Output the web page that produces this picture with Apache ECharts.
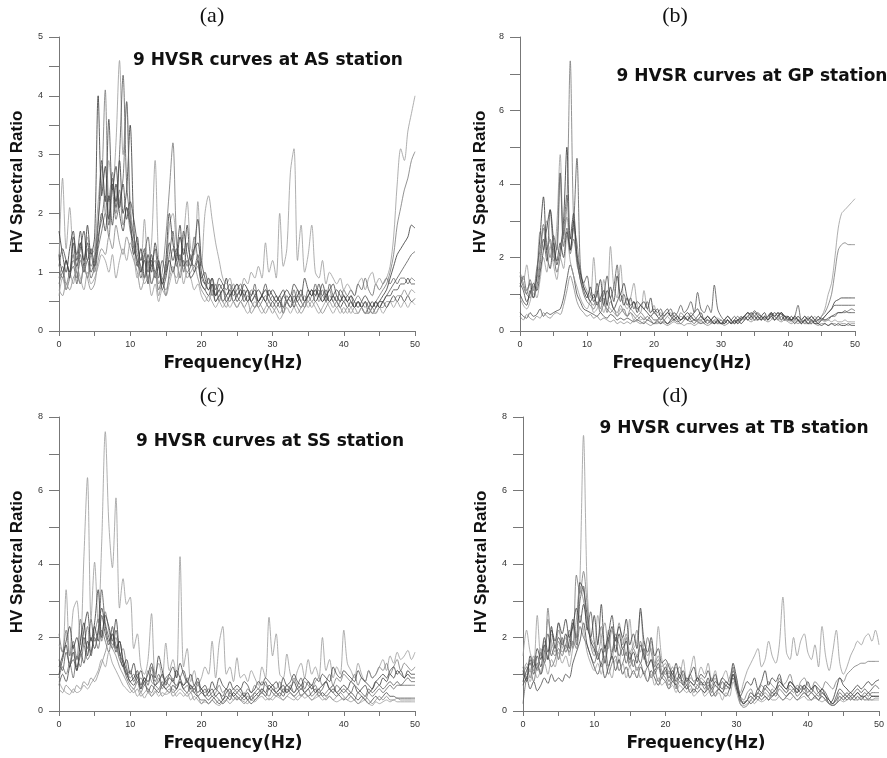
<!DOCTYPE html>
<html>
<head>
<meta charset="utf-8">
<script src="https://cdn.jsdelivr.net/npm/echarts@6/dist/echarts.min.js"></script>
<style>
  html, body { margin: 0; padding: 0; background: #fff; }
  #chart { width: 887px; height: 758px; }
</style>
</head>
<body>
<div id="chart"></div>
<script>
// frequency grid (Hz), shared by all curves
const freq = [0,0.5,1,1.5,2,2.5,3,3.5,4,4.5,5,5.5,6,6.5,7,7.5,8,8.5,9,9.5,10,10.5,11,11.5,12,12.5,13,13.5,14,14.5,15,15.5,16,16.5,17,17.5,18,18.5,19,19.5,20,20.5,21,21.5,22,22.5,23,23.5,24,24.5,25,25.5,26,26.5,27,27.5,28,28.5,29,29.5,30,30.5,31,31.5,32,32.5,33,33.5,34,34.5,35,35.5,36,36.5,37,37.5,38,38.5,39,39.5,40,40.5,41,41.5,42,42.5,43,43.5,44,44.5,45,45.5,46,46.5,47,47.5,48,48.5,49,49.5,50]

// (a) AS station
const as1 = [1.2, 2.6,1.4,2.1,1.3,1.1,1.5,1.2,1.6,1.3,1.4, 2.2,2.8,2.0,2.9,2.4,3.2,4.6,3.0,3.9,2.2, 1.6,1.4,1.2,1.9,1.1,1.5,2.9,1.2,0.9,1.1, 1.8,2.0,1.5,1.2,1.6,2.2,1.4,1.3,2.2,1.1, 2.0,2.3,1.9,1.5,1.2,0.9,0.8,0.9,0.7,0.8, 0.7,0.9,0.8,1.0,0.9,1.1,0.9,1.5,1.0,1.2, 0.9,2.0,1.1,1.4,2.7,3.1,1.2,1.8,1.0,1.3, 1.8,1.0,0.9,1.2,0.8,1.0,0.9,0.8,0.9,0.7, 0.8,0.7,0.6,0.8,0.9,0.7,0.9,1.0,0.8,0.9, 0.8,0.9,1.1,1.6,2.5,3.1,2.9,3.4,3.7,4.0]
const as2 = [0.9, 1.1,0.8,1.0,1.3,0.9,1.2,1.0,1.4,1.1,1.3, 1.9,2.5,4.1,2.2,2.7,2.0,2.4,1.8,2.1,1.7, 1.5,1.2,1.0,1.3,0.9,1.1,1.2,0.8,1.0,1.6, 2.4,3.2,1.6,1.2,1.4,1.1,1.3,1.0,1.1,0.9, 0.8,0.9,0.7,0.6,0.7,0.8,0.6,0.7,0.8,0.6, 0.7,0.6,0.5,0.7,0.6,0.5,0.6,0.7,0.5,0.6, 0.5,0.6,0.4,0.5,0.6,0.5,0.7,0.5,0.6,0.5, 0.6,0.7,0.5,0.6,0.5,0.6,0.5,0.4,0.5,0.6, 0.5,0.4,0.5,0.6,0.5,0.4,0.5,0.4,0.5,0.6, 0.7,0.8,1.0,1.3,1.8,2.1,2.4,2.6,2.9,3.05]
const as3 = [1.7, 1.3,1.0,1.4,1.7,1.2,1.5,1.1,1.8,1.3,1.6, 4.0,2.3,2.8,1.9,2.5,2.2,2.9,2.0,2.4,3.5, 1.8,1.1,1.4,0.9,1.3,1.0,1.5,1.1,0.8,1.2, 2.0,1.5,1.2,1.6,1.3,1.8,1.2,1.4,1.5,1.0, 0.8,0.7,0.9,0.6,0.8,0.7,0.9,0.6,0.7,0.8, 0.6,0.8,0.7,0.5,0.6,0.7,0.6,0.5,0.7,0.6, 0.5,0.6,0.7,0.5,0.6,0.4,0.6,0.7,0.5,0.6, 0.7,0.5,0.6,0.8,0.6,0.5,0.6,0.5,0.4,0.5, 0.4,0.5,0.4,0.5,0.4,0.3,0.4,0.5,0.4,0.5, 0.6,0.7,0.9,1.1,1.3,1.4,1.5,1.6,1.8,1.75]
const as4 = [1.0, 0.9,1.2,1.0,1.1,0.8,1.3,1.0,1.2,0.9,1.1, 1.6,1.9,2.3,1.8,2.6,2.1,3.0,4.35,2.5,1.9, 1.4,1.2,0.9,1.3,1.6,1.1,1.4,0.9,1.2,1.0, 1.3,1.7,1.1,1.3,1.0,1.5,1.2,1.1,1.3,0.9, 1.0,0.8,0.9,0.7,0.9,0.8,0.7,0.8,0.6,0.7, 0.8,0.6,0.7,0.6,0.8,0.5,0.6,0.7,0.6,0.5, 0.6,0.5,0.4,0.6,0.5,0.7,0.5,0.6,0.5,0.7, 0.6,0.8,0.6,0.7,0.5,0.8,0.6,0.5,0.7,0.6, 0.5,0.6,0.4,0.5,0.4,0.5,0.3,0.4,0.5,0.4, 0.5,0.6,0.7,0.8,0.9,1.0,1.1,1.2,1.3,1.35]
const as5 = [0.8, 1.0,0.7,0.9,1.2,1.0,0.8,1.1,0.9,1.3,1.0, 1.4,1.7,2.0,1.6,2.4,1.9,2.2,2.6,3.9,2.0, 1.6,1.3,1.1,0.9,1.2,0.8,1.0,0.7,0.9,0.6, 1.0,1.4,1.2,0.9,1.2,1.0,1.1,1.6,1.2,0.8, 0.7,0.9,0.6,0.8,0.5,0.7,0.6,0.5,0.7,0.6, 0.5,0.6,0.7,0.5,0.6,0.4,0.5,0.6,0.5,0.4, 0.5,0.4,0.6,0.5,0.4,0.5,0.6,0.5,0.4,0.6, 0.5,0.6,0.7,0.5,0.6,0.7,0.5,0.6,0.5,0.7, 0.6,0.7,0.6,0.8,0.7,0.9,0.7,0.6,0.8,0.7, 0.8,0.9,0.8,0.9,0.8,0.9,0.9,0.8,0.9,0.85]
const as6 = [1.1, 1.4,1.2,1.0,1.6,1.3,1.7,1.2,1.5,1.0,1.2, 1.8,2.9,2.2,3.6,2.4,2.8,2.1,2.5,1.9,2.2, 1.9,1.5,1.2,1.4,1.0,1.2,0.9,1.1,0.8,1.0, 1.5,1.2,1.4,1.1,1.7,1.3,1.1,1.4,1.9,1.2, 0.9,0.7,0.8,0.6,0.7,0.5,0.6,0.7,0.5,0.6, 0.7,0.5,0.6,0.5,0.4,0.5,0.6,0.5,0.4,0.5, 0.4,0.5,0.3,0.5,0.4,0.6,0.5,0.4,0.5,0.6, 0.7,0.6,0.8,0.6,0.7,0.5,0.6,0.7,0.6,0.5, 0.6,0.5,0.4,0.5,0.4,0.5,0.4,0.3,0.4,0.5, 0.5,0.6,0.6,0.7,0.7,0.8,0.8,0.9,0.8,0.8]
const as7 = [0.7, 0.6,0.8,0.7,0.9,1.0,0.8,1.1,0.9,0.7,0.8, 1.2,1.4,1.3,1.6,1.4,1.8,1.5,1.3,1.6,1.4, 1.2,1.0,0.7,0.9,1.1,0.8,1.0,0.6,0.8,0.7, 0.9,1.1,0.8,1.0,1.2,0.9,1.0,1.1,0.9,0.7, 0.6,0.5,0.7,0.5,0.6,0.5,0.4,0.6,0.5,0.4, 0.5,0.4,0.5,0.3,0.4,0.5,0.4,0.3,0.4,0.3, 0.4,0.3,0.4,0.5,0.4,0.5,0.4,0.3,0.4,0.5, 0.4,0.5,0.4,0.3,0.4,0.5,0.4,0.5,0.4,0.3, 0.4,0.3,0.4,0.3,0.4,0.3,0.3,0.4,0.3,0.4, 0.4,0.5,0.5,0.5,0.6,0.6,0.7,0.6,0.7,0.65]
const as8 = [0.6, 0.9,0.7,1.0,0.8,1.1,0.9,0.7,1.0,0.8,0.9, 1.1,1.3,1.2,1.0,1.3,0.9,1.2,1.4,1.2,1.5, 1.3,0.9,1.1,0.8,0.9,0.6,0.8,0.5,0.7,0.6, 0.8,1.0,0.9,1.2,0.8,1.0,0.9,0.7,0.8,0.6, 0.5,0.6,0.5,0.4,0.5,0.4,0.5,0.4,0.5,0.4, 0.5,0.4,0.3,0.4,0.5,0.4,0.3,0.4,0.5,0.4, 0.3,0.2,0.3,0.4,0.3,0.4,0.3,0.4,0.5,0.4, 0.5,0.4,0.3,0.4,0.5,0.4,0.3,0.4,0.3,0.4, 0.3,0.4,0.3,0.3,0.4,0.3,0.4,0.3,0.3,0.4, 0.3,0.4,0.5,0.4,0.5,0.4,0.5,0.4,0.5,0.45]
const as9 = [1.3, 1.0,1.2,0.9,1.5,1.1,1.4,1.7,1.2,1.4,1.1, 1.5,2.0,1.7,2.3,1.8,2.5,2.0,1.7,2.1,1.8, 1.3,1.6,1.0,1.2,0.8,1.3,1.0,1.2,0.7,0.9, 1.2,1.0,1.3,1.8,1.1,1.2,0.9,1.0,1.2,0.8, 0.7,0.6,0.8,0.5,0.6,0.7,0.5,0.6,0.7,0.5, 0.6,0.7,0.5,0.6,0.7,0.5,0.6,0.8,0.6,0.7, 0.6,0.5,0.6,0.7,0.6,0.8,0.7,0.6,0.9,0.7, 0.6,0.7,0.6,0.5,0.6,0.7,0.8,0.6,0.5,0.6, 0.5,0.6,0.5,0.4,0.5,0.6,0.5,0.4,0.5,0.4, 0.5,0.4,0.5,0.6,0.5,0.6,0.5,0.6,0.5,0.55]

// (b) GP station
const gp1 = [1.5, 1.4,1.8,1.2,1.0,1.6,2.7,2.2,3.0,2.4,2.0, 2.9,4.8,2.5,3.1,2.2,2.8,1.8,1.5,1.3,1.1, 0.9,2.0,1.0,0.8,1.4,0.7,2.3,1.2,0.9,1.8, 0.8,0.6,0.9,1.3,0.7,0.5,1.1,0.6,0.5,0.7, 0.4,0.5,0.3,0.4,0.5,0.3,0.4,0.3,0.4,0.3, 0.4,0.3,0.3,0.4,0.3,0.2,0.3,0.4,0.3,0.3, 0.2,0.3,0.2,0.3,0.2,0.3,0.4,0.3,0.4,0.5, 0.4,0.3,0.4,0.3,0.4,0.5,0.4,0.3,0.4,0.3, 0.3,0.4,0.3,0.2,0.3,0.4,0.3,0.4,0.3,0.4, 0.6,1.0,1.3,2.0,2.8,3.2,3.3,3.4,3.5,3.6]
const gp2 = [1.6, 1.3,1.0,0.9,1.2,1.4,2.0,2.8,2.2,2.5,1.9, 2.3,4.3,2.6,3.5,7.35,3.0,2.4,1.6,1.2,1.0, 0.8,0.7,1.1,0.6,0.9,0.5,0.8,0.6,0.5,0.7, 0.5,0.4,0.6,0.5,0.4,0.5,0.4,0.3,0.4,0.3, 0.3,0.4,0.3,0.2,0.3,0.4,0.3,0.5,0.4,0.3, 0.5,0.4,0.3,0.4,0.3,0.2,0.3,0.2,0.3,0.2, 0.3,0.2,0.3,0.2,0.3,0.3,0.4,0.5,0.4,0.4, 0.3,0.4,0.3,0.4,0.5,0.4,0.3,0.4,0.3,0.3, 0.3,0.2,0.3,0.3,0.2,0.3,0.2,0.3,0.3,0.4, 0.5,0.7,1.0,1.6,2.2,2.35,2.4,2.35,2.35,2.35]
const gp3 = [1.0, 0.8,0.7,1.1,0.9,1.5,2.6,3.65,2.1,1.7,2.4, 1.8,2.2,3.0,5.0,2.5,3.2,2.0,1.4,1.1,0.9, 1.2,0.8,1.0,1.4,0.7,1.1,0.9,0.6,0.8,1.0, 0.7,0.9,0.6,0.8,0.5,0.7,0.6,0.5,0.4,0.5, 0.4,0.3,0.4,0.5,0.4,0.3,0.4,0.3,0.4,0.5, 0.4,0.5,0.6,0.4,0.3,0.4,0.3,0.4,0.3,0.2, 0.3,0.4,0.3,0.2,0.3,0.2,0.3,0.4,0.5,0.4, 0.3,0.4,0.5,0.3,0.4,0.3,0.4,0.5,0.4,0.3, 0.4,0.3,0.4,0.3,0.4,0.3,0.4,0.3,0.4,0.3, 0.4,0.5,0.6,0.8,0.85,0.9,0.9,0.9,0.9,0.9]
const gp4 = [1.2, 1.5,1.1,1.3,0.9,1.2,1.8,2.5,1.9,3.3,2.2, 1.6,2.0,2.7,3.7,2.2,2.9,4.7,1.8,1.3,1.5, 1.0,0.9,1.3,0.8,1.0,1.5,0.9,1.2,1.8,0.8, 1.0,0.7,0.9,0.6,0.8,0.7,0.6,0.8,0.5,0.6, 0.5,0.6,0.4,0.5,0.6,0.4,0.5,0.7,0.5,0.6, 0.8,0.5,1.05,0.6,0.5,0.7,0.5,1.25,0.6,0.4, 0.3,0.4,0.3,0.4,0.3,0.4,0.3,0.4,0.3,0.4, 0.5,0.4,0.3,0.4,0.5,0.4,0.5,0.3,0.4,0.4, 0.3,0.4,0.7,0.3,0.4,0.3,0.4,0.3,0.2,0.3, 0.4,0.5,0.6,0.7,0.7,0.7,0.7,0.7,0.7,0.7]
const gp5 = [1.5, 1.2,1.0,1.4,1.1,1.7,2.2,2.9,2.4,2.0,2.6, 2.2,4.3,2.3,2.8,2.1,2.5,1.9,1.4,1.0,0.8, 0.7,0.6,0.8,0.5,0.7,0.6,0.5,0.6,0.4,0.5, 0.6,0.4,0.5,0.4,0.3,0.4,0.3,0.4,0.3,0.2, 0.3,0.2,0.3,0.2,0.3,0.4,0.3,0.2,0.3,0.4, 0.3,0.2,0.3,0.3,0.2,0.3,0.2,0.3,0.2,0.3, 0.2,0.3,0.2,0.3,0.4,0.3,0.4,0.5,0.4,0.5, 0.4,0.3,0.4,0.3,0.4,0.5,0.4,0.5,0.4,0.3, 0.3,0.2,0.3,0.2,0.3,0.2,0.2,0.3,0.2,0.3, 0.3,0.3,0.4,0.4,0.5,0.5,0.5,0.55,0.6,0.55]
const gp6 = [0.5, 0.4,0.35,0.5,0.4,0.45,0.6,0.4,0.5,0.45,0.5, 0.55,0.6,0.9,1.4,1.8,1.5,1.0,0.8,0.6,0.55, 0.5,0.45,0.4,0.5,0.4,0.35,0.45,0.4,0.3,0.35, 0.3,0.35,0.3,0.25,0.3,0.25,0.2,0.3,0.25,0.2, 0.25,0.2,0.25,0.2,0.25,0.3,0.25,0.3,0.35,0.3, 0.25,0.3,0.25,0.2,0.25,0.3,0.25,0.2,0.25,0.2, 0.25,0.3,0.2,0.25,0.3,0.35,0.4,0.5,0.45,0.55, 0.45,0.4,0.35,0.4,0.45,0.4,0.5,0.45,0.4,0.35, 0.3,0.35,0.3,0.25,0.3,0.35,0.3,0.25,0.3,0.35, 0.3,0.35,0.4,0.45,0.5,0.5,0.55,0.5,0.5,0.5]
const gp7 = [0.4, 0.3,0.45,0.35,0.3,0.4,0.35,0.5,0.4,0.35,0.45, 0.5,0.45,0.7,1.1,1.5,1.2,0.8,0.6,0.5,0.4, 0.45,0.35,0.4,0.3,0.35,0.3,0.25,0.3,0.2,0.25, 0.2,0.25,0.2,0.3,0.25,0.2,0.25,0.2,0.15,0.2, 0.2,0.25,0.2,0.15,0.2,0.25,0.2,0.2,0.15,0.2, 0.2,0.15,0.2,0.25,0.2,0.15,0.2,0.25,0.2,0.2, 0.15,0.2,0.25,0.2,0.25,0.3,0.35,0.3,0.25,0.3, 0.3,0.35,0.3,0.25,0.3,0.4,0.3,0.25,0.3,0.25, 0.2,0.25,0.2,0.25,0.2,0.2,0.25,0.2,0.15,0.2, 0.2,0.15,0.2,0.2,0.15,0.2,0.2,0.15,0.2,0.2]
const gp8 = [0.9, 0.7,0.6,0.8,1.2,0.9,1.4,2.0,1.6,2.3,1.8, 1.4,2.0,1.7,2.6,1.9,1.5,1.2,0.9,0.7,0.6, 0.8,0.5,0.6,0.9,0.5,0.7,0.6,0.5,0.4,0.6, 0.5,0.4,0.5,0.3,0.4,0.3,0.35,0.3,0.4,0.3, 0.3,0.35,0.3,0.4,0.3,0.35,0.3,0.4,0.35,0.3, 0.35,0.3,0.25,0.3,0.35,0.3,0.25,0.3,0.35,0.3, 0.25,0.3,0.2,0.3,0.25,0.3,0.35,0.4,0.35,0.4, 0.35,0.3,0.35,0.4,0.35,0.3,0.35,0.3,0.35,0.3, 0.25,0.3,0.25,0.3,0.25,0.3,0.25,0.2,0.25,0.3, 0.25,0.3,0.25,0.3,0.25,0.25,0.3,0.25,0.25,0.25]
const gp9 = [1.3, 1.1,0.8,1.0,1.3,1.1,1.6,2.2,2.8,3.3,2.5, 1.9,2.4,2.0,2.7,2.2,3.0,2.1,1.6,1.2,1.0, 0.8,1.0,0.7,0.9,1.1,0.7,1.2,0.8,1.5,1.0, 1.3,0.9,0.7,0.8,0.6,0.7,0.8,0.6,0.9,0.5, 0.6,0.4,0.5,0.6,0.4,0.5,0.4,0.3,0.4,0.3, 0.4,0.3,0.4,0.5,0.3,0.4,0.3,0.2,0.3,0.2, 0.2,0.3,0.2,0.3,0.2,0.3,0.4,0.3,0.4,0.3, 0.4,0.3,0.4,0.3,0.5,0.3,0.4,0.5,0.3,0.4, 0.3,0.4,0.3,0.2,0.3,0.2,0.3,0.2,0.2,0.15, 0.2,0.15,0.2,0.15,0.2,0.15,0.15,0.2,0.15,0.15]

// (c) SS station
const ss1 = [1.8, 1.6,3.3,1.5,2.75,3.0,1.8,4.2,6.35,2.5,4.05, 2.4,4.6,7.6,5.1,3.9,5.8,2.8,3.6,2.9,3.1, 1.7,2.1,1.2,1.0,1.4,2.65,1.0,1.3,0.9,1.85, 1.1,1.4,0.9,4.2,1.2,1.7,0.8,1.1,0.7,0.9, 1.2,1.0,1.9,0.9,1.85,2.3,1.0,1.2,0.8,1.45, 0.9,1.0,0.8,1.1,0.9,0.7,1.2,0.9,2.55,1.5, 2.1,1.0,0.9,1.55,1.0,0.8,1.1,1.3,0.9,1.4, 1.0,1.2,0.9,2.0,1.1,1.4,0.9,1.2,1.0,2.2, 1.3,1.1,0.9,1.3,1.0,0.8,1.1,0.9,1.0,1.2, 1.4,1.1,1.5,1.3,1.6,1.4,1.5,1.65,1.4,1.6]
const ss2 = [2.1, 1.6,2.2,1.5,1.9,1.4,2.5,1.8,2.3,1.6,2.1, 2.5,1.9,2.7,2.2,1.8,2.0,1.5,1.7,1.2,0.9, 1.0,0.8,0.9,0.7,1.1,0.8,0.7,0.9,0.6,0.8, 0.7,0.9,0.6,0.8,0.7,0.9,0.6,0.5,0.7,0.6, 0.5,0.6,0.4,0.5,0.7,0.5,0.6,0.4,0.5,0.6, 0.5,0.4,0.6,0.5,0.7,0.6,0.8,0.7,0.6,0.7, 0.6,0.8,0.5,0.7,0.6,0.9,0.7,0.6,0.8,0.7, 0.6,0.8,0.9,0.7,0.8,1.0,0.7,0.9,0.8,1.0, 0.9,0.8,1.0,0.7,0.9,0.8,1.1,0.9,1.0,1.2, 1.1,1.3,1.0,1.2,1.4,1.1,1.3,1.2,1.1,1.2]
const ss3 = [1.0, 1.4,1.8,1.2,1.6,1.1,1.9,2.4,1.5,2.0,1.7, 2.2,2.8,2.3,1.9,2.1,1.6,1.9,1.4,1.1,0.8, 0.9,1.1,0.7,0.9,0.8,1.0,0.7,0.8,1.0,0.7, 0.9,0.8,1.1,0.9,0.7,0.8,0.6,0.7,0.5,0.6, 0.4,0.5,0.6,0.4,0.5,0.3,0.5,0.6,0.4,0.5, 0.6,0.4,0.5,0.3,0.4,0.5,0.6,0.5,0.7,0.6, 0.5,0.6,0.7,0.5,0.6,0.8,0.6,0.7,0.5,0.6, 0.7,0.5,0.6,0.7,0.8,0.6,0.7,0.5,0.6,0.7, 0.6,0.8,0.7,0.5,0.6,0.7,0.5,0.6,0.8,0.7, 0.9,0.8,1.0,0.9,1.1,1.0,0.9,1.1,1.0,1.0]
const ss4 = [1.4, 1.1,1.6,1.3,1.8,1.2,1.5,2.0,1.7,2.5,1.9, 2.1,3.3,2.4,2.0,1.7,2.2,1.6,1.3,1.0,1.1, 0.8,1.0,0.6,0.9,0.7,1.2,0.8,1.0,0.7,0.9, 1.0,0.8,0.7,0.9,1.1,0.8,0.7,0.6,0.8,0.5, 0.6,0.4,0.5,0.6,0.5,0.4,0.6,0.5,0.4,0.3, 0.4,0.5,0.3,0.4,0.5,0.6,0.5,0.8,0.6,0.7, 0.5,0.6,0.5,0.7,0.6,0.5,0.7,0.9,0.6,0.8, 0.6,0.7,0.5,0.6,0.8,0.6,0.5,0.7,0.6,0.5, 0.6,0.5,0.7,0.6,0.5,0.4,0.6,0.5,0.6,0.7, 0.6,0.7,0.8,0.7,0.8,0.7,0.8,0.9,0.8,0.8]
const ss5 = [0.9, 1.2,1.0,1.3,0.9,1.5,1.2,1.8,1.4,1.6,2.0, 1.7,2.2,1.9,1.6,2.1,1.8,1.4,1.2,0.9,0.7, 0.6,0.8,0.5,0.7,0.6,0.5,0.7,0.6,0.8,0.6, 0.7,0.5,0.6,0.8,0.6,0.7,0.5,0.6,0.4,0.3, 0.3,0.2,0.3,0.4,0.3,0.2,0.3,0.5,0.6,0.5, 0.4,0.3,0.4,0.3,0.5,0.4,0.6,0.5,0.4,0.6, 0.5,0.4,0.6,0.5,0.7,0.5,0.6,0.4,0.5,0.6, 0.4,0.5,0.6,0.4,0.5,0.6,0.5,0.4,0.5,0.6, 0.5,0.4,0.3,0.5,0.4,0.3,0.5,0.4,0.5,0.6, 0.5,0.6,0.7,0.6,0.7,0.7,0.7,0.7,0.7,0.7]
const ss6 = [0.7, 1.0,0.8,1.2,1.4,1.1,1.6,1.3,1.9,1.5,2.3, 1.9,2.6,2.1,1.8,2.3,1.7,1.9,1.3,1.0,0.8, 0.7,0.9,0.6,0.8,0.5,0.7,0.6,0.5,0.7,0.6, 0.5,0.7,0.6,0.8,0.6,0.5,0.7,0.5,0.4,0.5, 0.4,0.3,0.4,0.3,0.2,0.3,0.4,0.3,0.5,0.4, 0.3,0.4,0.3,0.2,0.3,0.4,0.5,0.4,0.6,0.5, 0.4,0.5,0.4,0.6,0.5,0.4,0.5,0.6,0.5,0.4, 0.5,0.6,0.4,0.5,0.4,0.5,0.6,0.5,0.4,0.3, 0.4,0.5,0.4,0.3,0.4,0.3,0.2,0.3,0.4,0.3, 0.4,0.5,0.4,0.4,0.35,0.35,0.35,0.35,0.35,0.35]
const ss7 = [0.6, 0.5,0.7,0.6,0.5,0.7,0.6,0.8,0.7,0.9,0.8, 1.0,1.3,1.6,1.9,1.7,1.5,1.2,1.0,0.8,0.6, 0.5,0.6,0.4,0.5,0.6,0.4,0.5,0.6,0.4,0.5, 0.6,0.4,0.5,0.6,0.5,0.4,0.5,0.3,0.4,0.2, 0.3,0.2,0.3,0.2,0.3,0.2,0.3,0.4,0.3,0.4, 0.3,0.2,0.3,0.4,0.3,0.4,0.5,0.4,0.3,0.4, 0.5,0.4,0.3,0.4,0.5,0.4,0.3,0.4,0.5,0.4, 0.3,0.4,0.5,0.4,0.3,0.4,0.3,0.4,0.5,0.4, 0.3,0.4,0.3,0.2,0.3,0.4,0.3,0.2,0.3,0.4, 0.3,0.4,0.3,0.3,0.35,0.3,0.3,0.3,0.3,0.3]
const ss8 = [0.8, 0.6,0.5,0.45,0.6,0.5,0.55,0.7,0.6,0.75,0.9, 1.1,1.4,1.2,1.6,1.3,1.1,0.9,0.7,0.6,0.5, 0.6,0.4,0.5,0.35,0.5,0.4,0.55,0.4,0.5,0.45, 0.5,0.6,0.4,0.5,0.4,0.5,0.3,0.4,0.3,0.2, 0.25,0.2,0.3,0.2,0.15,0.25,0.3,0.2,0.3,0.35, 0.3,0.25,0.2,0.3,0.25,0.35,0.4,0.3,0.35,0.3, 0.4,0.35,0.3,0.4,0.35,0.3,0.4,0.45,0.35,0.4, 0.3,0.35,0.4,0.3,0.35,0.4,0.3,0.25,0.3,0.35, 0.3,0.25,0.3,0.2,0.25,0.3,0.2,0.15,0.25,0.2, 0.25,0.3,0.25,0.3,0.25,0.25,0.25,0.25,0.25,0.25]
const ss9 = [1.2, 1.5,1.9,2.3,1.7,2.0,1.6,2.2,2.7,1.9,2.4, 3.3,2.0,2.6,2.3,1.9,2.5,1.6,1.2,1.4,1.0, 1.3,0.9,1.1,0.8,1.0,1.3,0.9,1.5,1.1,0.8, 1.0,1.2,0.9,1.3,1.0,0.8,1.0,0.7,0.9,0.6, 0.7,0.5,0.8,0.6,0.9,0.7,0.6,0.8,0.6,0.7, 0.6,0.8,0.7,0.5,0.6,0.8,0.7,0.9,0.8,0.7, 0.8,0.6,0.9,0.7,0.8,1.0,0.8,0.7,0.9,0.8, 0.7,0.9,0.8,1.0,0.9,0.8,1.2,1.0,0.9,1.1, 1.0,0.9,0.8,1.1,0.9,0.8,0.7,0.6,0.8,0.9, 1.0,0.9,1.1,1.2,1.0,1.1,0.9,1.0,0.9,0.9]

// (d) TB station
const tb1 = [1.5, 2.2,1.6,1.3,2.6,1.5,1.9,1.4,2.1,1.8,2.4, 1.7,2.0,1.5,2.3,1.9,3.6,7.5,3.4,2.0,1.6, 2.6,1.9,1.4,2.2,1.6,1.8,1.3,2.0,1.5,2.5, 1.7,1.9,2.7,1.6,1.3,1.9,1.2,2.3,1.4,1.1, 1.3,0.9,1.2,1.0,1.4,0.8,1.1,1.5,0.9,1.2, 1.0,1.3,0.8,1.1,0.7,0.9,1.1,0.8,1.0,0.7, 0.5,0.8,1.1,1.3,1.5,1.7,1.2,1.4,1.9,1.5, 1.3,1.8,3.1,1.6,1.4,2.0,1.5,1.9,2.1,1.6, 1.4,1.8,1.2,2.3,1.5,1.1,1.6,2.2,1.3,1.0, 1.2,1.5,1.7,1.9,1.8,2.0,2.1,1.9,2.2,1.8]
const tb2 = [1.0, 1.2,0.9,1.4,1.1,1.6,1.3,2.8,1.7,1.5,1.9, 1.6,1.8,2.2,1.7,3.7,3.2,3.8,2.9,1.8,1.5, 1.9,2.3,1.6,2.0,1.4,2.1,1.8,1.5,2.0,1.3, 1.7,1.5,1.9,1.4,2.0,1.6,1.2,1.4,1.1,1.0, 1.1,0.8,1.0,1.2,0.9,0.7,1.0,0.8,0.9,0.7, 0.8,0.6,0.9,0.7,0.6,0.8,0.7,0.9,1.2,0.6, 0.4,0.3,0.5,0.6,0.4,0.5,0.7,0.6,0.8,0.7, 0.6,0.9,0.7,0.8,1.0,0.7,0.6,0.8,0.9,0.7, 0.6,0.8,0.7,0.6,0.8,0.7,0.6,0.8,0.9,0.8, 1.0,1.1,1.2,1.25,1.3,1.3,1.35,1.35,1.35,1.35]
const tb3 = [0.8, 1.1,1.3,1.0,1.5,1.2,1.8,1.4,2.3,1.7,2.0, 1.8,2.1,1.7,2.4,2.0,3.5,3.3,2.6,1.9,1.7, 1.4,1.7,1.3,1.9,2.3,1.6,2.1,1.7,1.9,1.4, 1.6,1.3,1.8,1.5,1.2,1.4,1.1,1.3,1.0,1.2, 0.9,1.1,0.8,1.0,0.7,0.9,0.8,0.7,0.9,0.8, 0.7,0.9,0.6,0.8,0.7,0.6,0.8,0.7,1.3,0.9, 0.4,0.2,0.3,0.5,0.4,0.6,0.5,0.7,0.6,0.5, 0.6,0.8,0.7,0.6,0.8,0.7,0.6,0.5,0.7,0.6, 0.5,0.7,0.6,0.5,0.4,0.2,0.3,0.6,0.9,0.7, 0.6,0.5,0.6,0.7,0.6,0.7,0.8,0.7,0.8,0.85]
const tb4 = [1.2, 0.9,1.4,1.1,1.3,1.0,1.6,2.1,1.5,1.8,1.4, 2.0,1.6,1.9,2.5,1.8,3.0,3.4,2.2,2.7,1.9, 1.5,1.3,1.8,1.2,1.6,2.0,1.5,1.7,1.3,1.6, 1.2,1.5,1.3,1.7,1.2,1.4,1.0,1.2,0.9,1.1, 0.8,1.0,0.7,0.9,0.8,0.6,0.8,0.7,0.6,0.8, 0.6,0.8,0.5,0.7,0.6,0.5,0.7,0.6,1.1,0.8, 0.3,0.2,0.3,0.4,0.3,0.5,0.4,0.6,0.5,0.4, 0.5,0.7,0.6,0.5,0.7,0.6,0.5,0.6,0.7,0.5, 0.6,0.5,0.4,0.6,0.5,0.3,0.2,0.3,0.5,0.4, 0.5,0.4,0.5,0.6,0.5,0.6,0.5,0.6,0.7,0.6]
const tb5 = [0.2, 0.9,1.1,0.8,1.2,1.0,1.3,1.5,1.2,1.4,1.7, 1.5,1.8,1.6,1.9,1.7,2.3,2.0,1.8,1.5,1.3, 1.6,1.2,1.4,1.0,1.3,1.5,1.1,1.3,1.6,1.2, 1.4,1.1,1.3,1.0,1.2,0.9,1.1,0.8,1.0,0.9, 0.7,0.9,0.6,0.8,0.7,0.6,0.7,0.5,0.7,0.6, 0.5,0.7,0.6,0.4,0.6,0.5,0.7,0.6,1.0,0.7, 0.2,0.1,0.15,0.3,0.4,0.3,0.5,0.4,0.3,0.5, 0.4,0.6,0.5,0.4,0.5,0.6,0.4,0.5,0.6,0.4, 0.5,0.4,0.3,0.5,0.4,0.2,0.15,0.2,0.4,0.3, 0.4,0.3,0.4,0.5,0.4,0.5,0.4,0.5,0.5,0.5]
const tb6 = [0.7, 0.9,0.6,0.8,0.55,0.7,0.9,0.75,1.0,0.8,0.9, 0.8,1.0,0.9,1.3,1.6,1.9,2.4,1.8,1.5,1.2, 1.0,1.3,0.9,1.2,1.5,1.1,1.4,1.0,1.2,0.9, 1.1,0.9,1.2,1.0,0.8,1.1,0.9,0.7,0.9,0.8, 0.6,0.8,0.7,0.5,0.6,0.7,0.5,0.6,0.5,0.6, 0.5,0.6,0.4,0.5,0.6,0.5,0.4,0.6,0.9,0.6, 0.3,0.2,0.3,0.2,0.3,0.4,0.3,0.4,0.3,0.4, 0.5,0.4,0.3,0.4,0.5,0.4,0.3,0.4,0.5,0.4, 0.3,0.4,0.3,0.4,0.3,0.2,0.15,0.2,0.3,0.4, 0.3,0.4,0.3,0.4,0.3,0.4,0.3,0.4,0.4,0.4]
const tb7 = [1.0, 1.3,1.1,1.5,1.2,1.7,1.4,2.5,1.9,1.6,2.2, 1.9,1.7,2.1,1.8,2.5,3.4,3.0,2.5,2.0,1.8, 1.6,2.0,2.4,1.7,2.2,1.9,2.4,1.8,2.1,1.6, 1.8,2.2,1.6,1.9,1.5,1.7,1.3,1.5,1.2,1.3, 1.0,1.2,0.9,0.8,1.0,0.7,0.9,0.8,0.7,0.9, 0.8,0.6,0.7,0.9,0.6,0.8,0.6,0.7,1.2,0.8, 0.3,0.25,0.3,0.4,0.3,0.5,0.4,0.5,0.4,0.6, 0.5,0.7,0.6,0.5,0.6,0.5,0.7,0.6,0.5,0.4, 0.5,0.4,0.5,0.4,0.3,0.2,0.2,0.3,0.4,0.3, 0.4,0.3,0.4,0.3,0.4,0.3,0.35,0.3,0.35,0.35]
const tb8 = [0.9, 1.0,0.8,1.2,0.9,1.1,1.3,1.0,1.4,1.2,1.6, 1.3,1.5,1.2,1.7,2.0,2.6,2.2,1.6,1.3,1.1, 1.3,1.0,1.5,1.2,0.9,1.4,1.1,1.3,0.9,1.2, 1.0,1.2,0.9,1.1,0.8,1.0,0.7,0.9,0.7,0.8, 0.6,0.7,0.5,0.7,0.6,0.5,0.6,0.4,0.5,0.6, 0.4,0.5,0.6,0.4,0.5,0.3,0.5,0.4,0.8,0.5, 0.2,0.15,0.2,0.3,0.2,0.3,0.25,0.3,0.4,0.3, 0.3,0.4,0.3,0.35,0.3,0.4,0.3,0.35,0.4,0.3, 0.3,0.35,0.3,0.25,0.3,0.2,0.15,0.2,0.3,0.25, 0.3,0.35,0.3,0.3,0.35,0.3,0.3,0.3,0.3,0.3]
const tb9 = [1.1, 0.8,1.5,1.2,1.7,1.4,2.0,1.6,2.2,1.9,2.4, 2.1,2.5,2.0,2.3,2.8,2.4,2.9,2.3,2.0,2.6, 1.8,2.9,1.7,2.1,2.6,1.9,2.3,2.0,2.5,1.8, 2.1,1.7,2.8,1.9,1.6,2.0,1.5,1.7,1.3,1.4, 1.2,1.0,1.3,0.9,1.1,0.8,1.0,1.2,0.8,1.0, 0.9,1.1,0.8,1.0,0.7,0.9,0.8,0.7,1.0,0.7, 0.4,0.6,0.8,0.7,0.9,0.6,0.8,1.1,0.7,0.9, 0.8,1.0,0.7,0.6,0.8,0.7,0.5,0.7,0.6,0.8, 0.6,0.7,0.5,0.6,0.4,0.3,0.2,0.4,0.6,0.5, 0.4,0.5,0.4,0.5,0.4,0.4,0.5,0.4,0.4,0.4]

const xTickLabels = [0, 10, 20, 30, 40, 50]
const stations = ['AS', 'GP', 'SS', 'TB']
const panelTags = ['(a)', '(b)', '(c)', '(d)']
const yMaxes = [5, 8, 8, 8]
const curves = [
  [as1, as2, as3, as4, as5, as6, as7, as8, as9],
  [gp1, gp2, gp3, gp4, gp5, gp6, gp7, gp8, gp9],
  [ss1, ss2, ss3, ss4, ss5, ss6, ss7, ss8, ss9],
  [tb1, tb2, tb3, tb4, tb5, tb6, tb7, tb8, tb9]
]

// grey shade for each of the 9 curves in a panel
const greys = ['#9a9a9a', '#777', '#333', '#555', '#666', '#444', '#888', '#999', '#3c3c3c']

curves.forEach((set, p) => set.forEach((arr, k) => {
  if (arr.length !== freq.length) throw new Error(`panel ${p} curve ${k + 1}: ${arr.length} values`)
}))

const boxes = [
  { left: 59, top: 37, width: 356, height: 294 },
  { left: 520, top: 37, width: 335, height: 294 },
  { left: 59, top: 417, width: 356, height: 294 },
  { left: 523, top: 417, width: 356, height: 294 }
]
const tagPos = [[212, 16], [675, 16], [212, 396], [675, 396]]
const titlePos = [[268, 61], [752, 77], [270, 442], [734, 429]]
const xNamePos = [[233, 364], [682, 364], [233, 744], [696, 744]]
const yNamePos = [[17, 182], [480, 182], [17, 562], [481, 562]]

const chart = echarts.init(document.getElementById('chart'))

const axisColor = '#777'
const grid = boxes.map(b => ({ ...b, containLabel: false }))

const xAxis = boxes.map((b, i) => ({
  gridIndex: i,
  type: 'value',
  min: 0,
  max: 50,
  interval: 5,
  axisLine: { lineStyle: { color: axisColor, width: 1 } },
  axisTick: { length: 5, lineStyle: { color: axisColor } },
  axisLabel: {
    fontSize: 9,
    color: '#333',
    fontFamily: 'Liberation Sans',
    margin: 9,
    formatter: v => (xTickLabels.includes(v) ? String(v) : '')
  },
  splitLine: { show: false }
}))

const yAxis = boxes.map((b, i) => ({
  gridIndex: i,
  type: 'value',
  min: 0,
  max: yMaxes[i],
  interval: yMaxes[i] === 5 ? 0.5 : 1,
  axisLine: { show: true, lineStyle: { color: axisColor, width: 1 } },
  axisTick: { show: true, length: 10, lineStyle: { color: axisColor } },
  axisLabel: {
    fontSize: 9,
    color: '#333',
    fontFamily: 'Liberation Sans',
    margin: 16,
    formatter: v => {
      if (yMaxes[i] === 5) return Number.isInteger(v) ? String(v) : ''
      return v % 2 === 0 ? String(v) : ''
    }
  },
  splitLine: { show: false }
}))

const series = []
curves.forEach((set, p) => {
  set.forEach((arr, k) => {
    series.push({
      type: 'line',
      name: `${stations[p]}-${k + 1}`,
      xAxisIndex: p,
      yAxisIndex: p,
      data: freq.map((f, j) => [f, arr[j]]),
      showSymbol: false,
      smooth: 0.3,
      lineStyle: { color: greys[k], width: 0.8 },
      emphasis: { disabled: true },
      silent: true
    })
  })
})

const texts = []
for (let i = 0; i < 4; i++) {
  texts.push({
    type: 'text', x: tagPos[i][0], y: tagPos[i][1],
    style: { text: panelTags[i], font: '22px "Liberation Serif"', fill: '#111', align: 'center', verticalAlign: 'middle' }
  })
  texts.push({
    type: 'text', x: titlePos[i][0], y: titlePos[i][1],
    style: { text: `9 HVSR curves at ${stations[i]} station`, font: 'bold 17px "DejaVu Sans"', fill: '#111', align: 'center', verticalAlign: 'middle' }
  })
  texts.push({
    type: 'text', x: xNamePos[i][0], y: xNamePos[i][1],
    style: { text: 'Frequency(Hz)', font: 'bold 17px "DejaVu Sans"', fill: '#111', align: 'center', verticalAlign: 'middle' }
  })
  texts.push({
    type: 'text', x: yNamePos[i][0], y: yNamePos[i][1], rotation: Math.PI / 2,
    style: { text: 'HV Spectral Ratio', font: 'bold 17px "Liberation Sans"', fill: '#111', align: 'center', verticalAlign: 'middle' }
  })
}

chart.setOption({
  backgroundColor: '#fff',
  animation: false,
  grid,
  xAxis,
  yAxis,
  series,
  graphic: { elements: texts }
})
</script>
</body>
</html>
